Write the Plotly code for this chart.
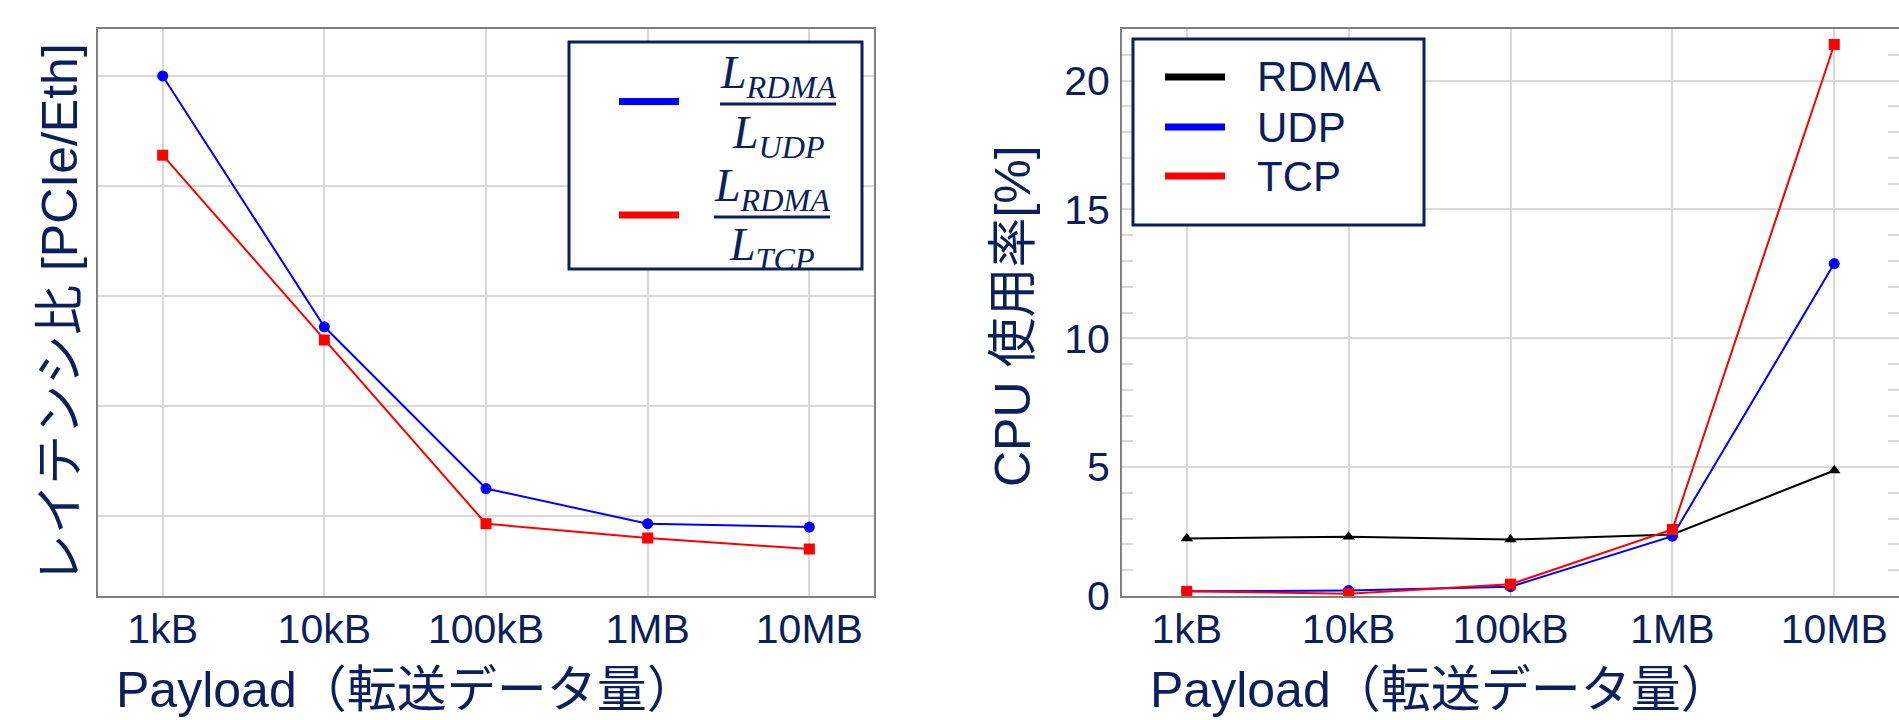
import plotly.graph_objects as go

W, H = 1899, 720

# ---------------- data ----------------
payload = ["1kB", "10kB", "100kB", "1MB", "10MB"]

# left panel: latency ratio (PCIe/Eth), no y tick labels in the original
ratio_udp = [5.00, 2.72, 1.25, 0.93, 0.90]
ratio_tcp = [4.28, 2.60, 0.93, 0.80, 0.70]

# right panel: CPU usage [%]
cpu_rdma = [2.23, 2.30, 2.19, 2.39, 4.87]
cpu_udp = [0.18, 0.21, 0.36, 2.32, 12.9]
cpu_tcp = [0.18, 0.09, 0.46, 2.58, 21.4]

cpu_names = ["RDMA", "UDP", "TCP"]
cpu_colors = ["#000000", "#0000FF", "#FF0000"]
ratio_colors = ["#0000FF", "#FF0000"]
frac_num = ["RDMA", "RDMA"]
frac_den = ["UDP", "TCP"]

NAVY = "#0a1f5c"
FONT = "Liberation Sans, Arial, Noto Sans CJK JP, sans-serif"
GRID = "#d9d9d9"
FRAME = "#808080"


def X(px):
    return px / W


def Y(py):
    return 1 - py / H


fig = go.Figure()

# left panel traces
fig.add_trace(go.Scatter(x=payload, y=ratio_udp, mode="lines+markers", xaxis="x", yaxis="y",
                         line=dict(color=ratio_colors[0], width=2),
                         marker=dict(symbol="circle", size=11, color=ratio_colors[0]),
                         showlegend=False))
fig.add_trace(go.Scatter(x=payload, y=ratio_tcp, mode="lines+markers", xaxis="x", yaxis="y",
                         line=dict(color=ratio_colors[1], width=2),
                         marker=dict(symbol="square", size=11, color=ratio_colors[1]),
                         showlegend=False))

# right panel traces
for name, vals, col, sym in zip(cpu_names, [cpu_rdma, cpu_udp, cpu_tcp], cpu_colors,
                                ["triangle-up", "circle", "square"]):
    fig.add_trace(go.Scatter(x=payload, y=vals, mode="lines+markers", xaxis="x2", yaxis="y2",
                             name=name, line=dict(color=col, width=2),
                             marker=dict(symbol=sym, size=11, color=col),
                             showlegend=False))

tickfont = dict(family=FONT, size=41, color=NAVY)
common_x = dict(type="category", range=[-0.4, 4.4], showgrid=True, gridcolor=GRID, gridwidth=2,
                showline=True, linecolor=FRAME, linewidth=2, mirror=True, ticks="",
                tickfont=tickfont, zeroline=False, ticklabelstandoff=-4, automargin=False)

fig.update_layout(
    width=W, height=H,
    margin=dict(l=0, r=0, t=0, b=0, autoexpand=False),
    paper_bgcolor="white", plot_bgcolor="white",
    font=dict(family=FONT, color=NAVY),
    hovermode=False,
    xaxis=dict(domain=[X(98), X(874)], anchor="y", **common_x),
    yaxis=dict(domain=[Y(596), Y(29)], anchor="x", range=[0.273, 5.427], dtick=1, tick0=0,
               showgrid=True, gridcolor=GRID, gridwidth=2, showline=True, linecolor=FRAME,
               linewidth=2, mirror=True, showticklabels=False, ticks="", zeroline=False,
               automargin=False),
    xaxis2=dict(domain=[X(1122), 1.0], anchor="y2", **common_x),
    yaxis2=dict(domain=[Y(596), Y(29)], anchor="x2", range=[0, 22], dtick=5, tick0=0,
                showgrid=True, gridcolor=GRID, gridwidth=2, showline=True, linecolor=FRAME,
                linewidth=2, mirror="ticks", ticks="inside", ticklen=11, tickcolor=GRID,
                tickwidth=2, tickfont=tickfont, zeroline=False, ticklabelstandoff=2,
                automargin=False,
                minor=dict(dtick=1, ticks="inside", ticklen=11, tickcolor=GRID, tickwidth=2,
                           showgrid=False)),
)

shapes = []
annotations = []

# axis titles
title_font = dict(family=FONT, size=50, color=NAVY)
xtitle = "Payload（転送データ量）"
annotations.append(dict(text=xtitle, x=X(114), y=Y(690), xref="paper", yref="paper",
                        xanchor="left", yanchor="middle", showarrow=False, font=title_font))
annotations.append(dict(text=xtitle, x=X(1148), y=Y(690), xref="paper", yref="paper",
                        xanchor="left", yanchor="middle", showarrow=False, font=title_font))
annotations.append(dict(text="レイテンシ比 [PCIe/Eth]", x=X(60), y=Y(314), xref="paper", yref="paper",
                        xanchor="center", yanchor="middle", textangle=-90, showarrow=False,
                        font=title_font))
annotations.append(dict(text="CPU 使用率[%]", x=X(1013), y=Y(316), xref="paper", yref="paper",
                        xanchor="center", yanchor="middle", textangle=-90, showarrow=False,
                        font=title_font))

# left legend (fractions)
shapes.append(dict(type="rect", xref="paper", yref="paper", x0=X(569), x1=X(862), y0=Y(269), y1=Y(42),
                   line=dict(color=NAVY, width=3), fillcolor="white", layer="above"))
frac_font = dict(family="Liberation Serif, DejaVu Serif, serif", size=46, color=NAVY)
rows = [dict(line_y=101.5, bar_y=104, bar_x=(720, 836), num_y=76, den_y=136, cx=778),
        dict(line_y=215, bar_y=217, bar_x=(714, 830), num_y=189, den_y=248, cx=772)]
for r, col, nsub, dsub in zip(rows, ratio_colors, frac_num, frac_den):
    shapes.append(dict(type="line", xref="paper", yref="paper", x0=X(619), x1=X(679),
                       y0=Y(r["line_y"]), y1=Y(r["line_y"]), line=dict(color=col, width=7)))
    shapes.append(dict(type="line", xref="paper", yref="paper", x0=X(r["bar_x"][0]), x1=X(r["bar_x"][1]),
                       y0=Y(r["bar_y"]), y1=Y(r["bar_y"]), line=dict(color=NAVY, width=3)))
    annotations.append(dict(text=f"<i>L</i><sub><i>{nsub}</i></sub>", x=X(r["cx"]), y=Y(r["num_y"]),
                            xref="paper", yref="paper", xanchor="center", yanchor="middle",
                            showarrow=False, font=frac_font))
    annotations.append(dict(text=f"<i>L</i><sub><i>{dsub}</i></sub>", x=X(r["cx"]), y=Y(r["den_y"]),
                            xref="paper", yref="paper", xanchor="center", yanchor="middle",
                            showarrow=False, font=frac_font))

# right legend
shapes.append(dict(type="rect", xref="paper", yref="paper", x0=X(1133), x1=X(1424), y0=Y(225), y1=Y(39),
                   line=dict(color=NAVY, width=3), fillcolor="white", layer="above"))
for name, col, ly in zip(cpu_names, cpu_colors, [77, 127, 176]):
    shapes.append(dict(type="line", xref="paper", yref="paper", x0=X(1165), x1=X(1225),
                       y0=Y(ly), y1=Y(ly), line=dict(color=col, width=7)))
    annotations.append(dict(text=name, x=X(1255), y=Y(ly), xref="paper", yref="paper",
                            xanchor="left", yanchor="middle", showarrow=False,
                            font=dict(family=FONT, size=42, color=NAVY)))

fig.update_layout(shapes=shapes, annotations=annotations)
fig.write_html("out.html", config={"displayModeBar": False},
               post_script="document.body.style.margin='0px';document.body.style.overflow='hidden';")
